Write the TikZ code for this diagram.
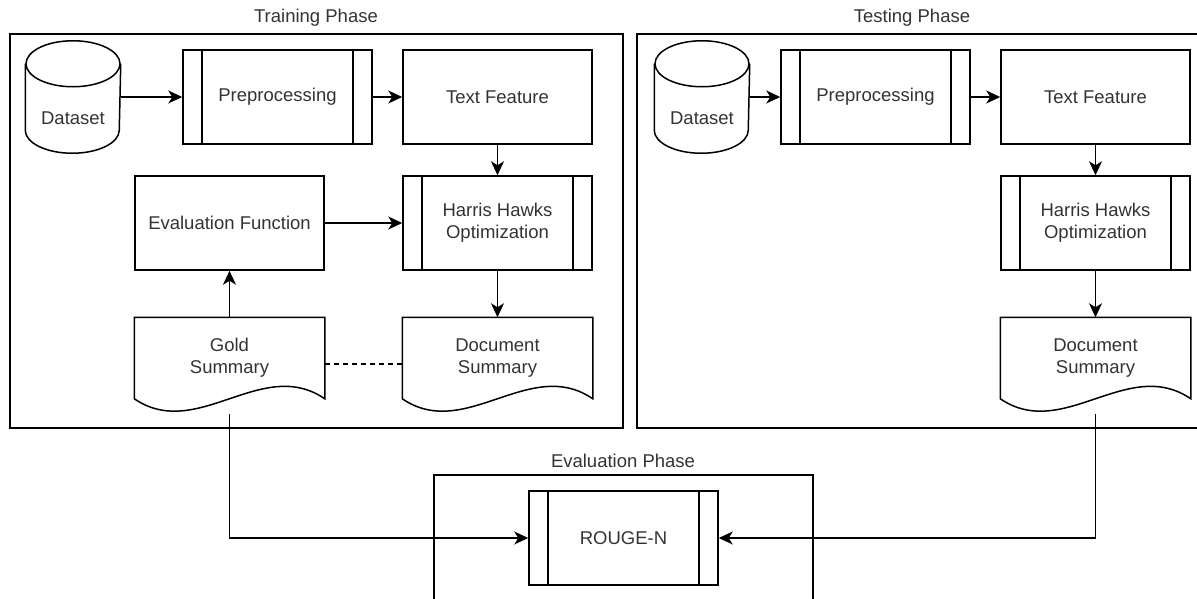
\documentclass[tikz,border=0pt]{standalone}
\usepackage{fontspec}
\setmainfont{Liberation Sans}
\usetikzlibrary{arrows.meta,positioning}

% outline of a database drum round an (undrawn) node
\newcommand{\drumoutline}[1]{%
  \draw ([yshift=-23pt]#1.north) ellipse [x radius=47pt, y radius=23pt];
  \draw ([yshift=-23pt]#1.north west) -- ([yshift=23pt]#1.south west)
    arc [start angle=180, end angle=360, x radius=47pt, y radius=23pt]
    -- ([yshift=-23pt]#1.north east);}
% outline of a document sheet with a wavy lower edge
\newcommand{\sheetoutline}[1]{%
  \draw (#1.north west) -- (#1.south west)
    .. controls +(63pt,-43pt) and +(-63pt,43pt) .. (#1.south east)
    -- (#1.north east) -- cycle;}

\begin{document}
\begin{tikzpicture}[x=1pt, y=-1pt, line width=1.5pt,
    >={Stealth[length=14pt, width=13pt, inset=4pt]},
    font=\fontsize{18.5}{22}\selectfont, text=black!80,
    block/.style={draw, minimum width=189pt, minimum height=94pt, align=center},
    procbox/.style={block, path picture={
        \draw ([xshift=19pt]path picture bounding box.north west) -- ([xshift=19pt]path picture bounding box.south west);
        \draw ([xshift=-19pt]path picture bounding box.north east) -- ([xshift=-19pt]path picture bounding box.south east);}},
    sheet/.style={minimum width=189pt, minimum height=80pt, align=center},
    drum/.style={minimum width=94pt, minimum height=111pt},
    phase/.style={draw, inner sep=0pt}]
  \clip (0,0) rectangle (1197,598);

  % frames
  \node[phase, minimum width=613pt, minimum height=394pt] (train) at (316.5, 231) {};
  \node[phase, minimum width=568pt, minimum height=394pt] (test) at (921, 231) {};
  \node[phase, minimum width=379pt, minimum height=135pt] (eval) at (623.5, 542.5) {};
  \node (traintitle) at (316, 18) {Training Phase};
  \node (testtitle) at (912, 18) {Testing Phase};
  \node (evaltitle) at (623, 461) {Evaluation Phase};

  % training phase
  \node[drum, label={[yshift=-21pt]center:Dataset}] (ds1) at (73, 97) {};
  \drumoutline{ds1}
  \node[procbox] (pre1) at (277.5, 97) {Preprocessing};
  \node[block] (tf1) at (497.5, 97) {Text Feature};
  \node[procbox] (hho1) at (497.5, 223) {Harris Hawks\\Optimization};
  \node[block] (ef1) at (229.5, 223) {Evaluation Function};
  \node[sheet] (gold1) at (229.5, 358) {Gold\\Summary};
  \sheetoutline{gold1}
  \node[sheet] (doc1) at (497.5, 358) {Document\\Summary};
  \sheetoutline{doc1}

  \draw[->] (ds1) -- (pre1);
  \draw[->] (pre1) -- (tf1);
  \draw[->] (tf1) -- (hho1);
  \draw[->] (ef1) -- (hho1);
  \draw[->] (gold1) -- (ef1);
  \draw[->] (hho1) -- (doc1);
  \draw[dash pattern=on 5pt off 4pt] ([yshift=-6pt]gold1.east) -- ([yshift=-6pt]doc1.west);

  % testing phase
  \node[drum, label={[yshift=-21pt]center:Dataset}] (ds2) at (702, 97) {};
  \drumoutline{ds2}
  \node[procbox] (pre2) at (875.5, 97) {Preprocessing};
  \node[block] (tf2) at (1095.5, 97) {Text Feature};
  \node[procbox] (hho2) at (1095.5, 223) {Harris Hawks\\Optimization};
  \node[sheet] (doc2) at (1095.5, 358) {Document\\Summary};
  \sheetoutline{doc2}

  \draw[->] (ds2) -- (pre2);
  \draw[->] (pre2) -- (tf2);
  \draw[->] (tf2) -- (hho2);
  \draw[->] (hho2) -- (doc2);

  % evaluation phase
  \node[procbox] (rouge) at (623.5, 538) {ROUGE-N};
  \draw[->] ([yshift=-15pt]gold1.south) |- (rouge);
  \draw[->] ([yshift=-15pt]doc2.south) |- (rouge);
\end{tikzpicture}
\end{document}
